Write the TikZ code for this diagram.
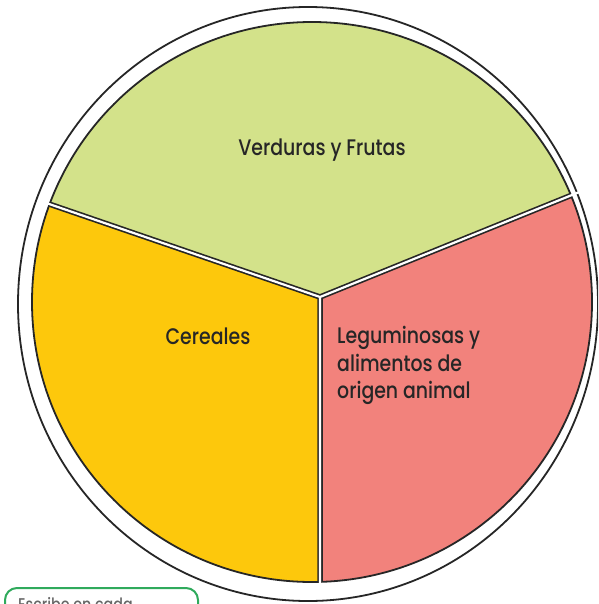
\documentclass[tikz,border=0pt]{standalone}
\usepackage{fontspec}
\usetikzlibrary{calc}
\setmainfont{Poppins}[UprightFont=* Medium, FakeStretch=0.84]
\definecolor{verde}{HTML}{D3E28A}
\definecolor{amarillo}{HTML}{FDC80C}
\definecolor{rosa}{HTML}{F2827C}
\definecolor{marco}{HTML}{2FAA5C}
\begin{document}
\begin{tikzpicture}[x=1pt, y=-1pt,
    etiqueta/.style={text=black!85, font=\fontsize{22.5}{27.5}\selectfont, inner sep=0pt},
    borde/.style={line width=1.8pt, black!85}]
    \useasboundingbox (0,0) rectangle (598,604);
    \clip (0,0) rectangle (598,604);

    % Center and ends of the dividers
    \coordinate (C) at (320,297);
    \coordinate (L) at (52,205);
    \coordinate (R) at (572,195);
    \coordinate (B) at (320,583);
    \coordinate (Lf) at ($(C)!2!(L)$);
    \coordinate (Rf) at ($(C)!2!(R)$);
    \coordinate (Bf) at ($(C)!2!(B)$);

    % Outer ring
    \draw[borde] (308,304) ellipse [x radius=290, y radius=297];

    % Sectors
    \begin{scope}
        \clip (312,302) circle (280);
        \fill[verde] (C) -- (Lf) -- (-300,-300) -- (900,-300) -- (Rf) -- cycle;
        \fill[amarillo] (C) -- (Lf) -- (-300,900) -- (Bf) -- cycle;
        \fill[rosa] (C) -- (Rf) -- (900,900) -- (Bf) -- cycle;
        \draw[line width=5.5pt, black!85] (C) -- (Lf) (C) -- (Rf) (C) -- (Bf);
    \end{scope}
    \draw[borde] (312,302) circle (280);
    \draw[line width=2.2pt, white] ($(C)!1.03!(L)$) -- (C) -- ($(C)!1.03!(R)$)
        (C) -- ($(C)!1.03!(B)$);

    % Labels
    \node[etiqueta] (verduras) at (322,150) {Verduras y Frutas};
    \node[etiqueta] (cereales) at (208,336) {Cereales};
    \node[etiqueta, anchor=north west, align=left] (leguminosas) at (337,326)
        {Leguminosas y\\alimentos de\\origen animal};

    % Box below
    \draw[marco, line width=2pt, rounded corners=12pt] (5,588) rectangle (198,640);
    \node[anchor=north west, inner sep=0pt, text=black!60,
        font=\fontsize{17}{20}\selectfont] (escribe) at (18,597) {Escribe en cada};
\end{tikzpicture}
\end{document}
